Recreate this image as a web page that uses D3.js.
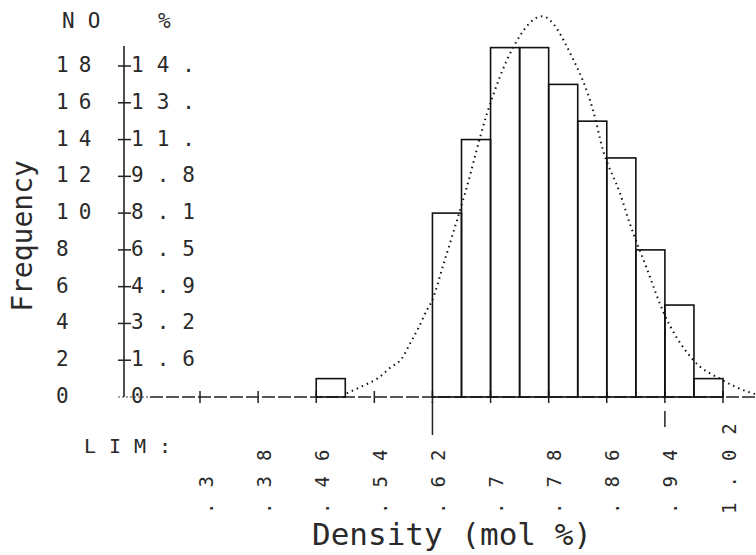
<!DOCTYPE html>
<html>
<head>
<meta charset="utf-8">
<script src="https://cdn.jsdelivr.net/npm/d3@7"></script>
<style>
  body { margin: 0; background: #fff; }
  svg { display: block; }
  .dm { font-family: "DejaVu Sans Mono", monospace; fill: #2a2a2a; }
</style>
</head>
<body>
<div id="chart"><svg></svg></div>
<script>
// histogram bins (left edge, density mol %) and counts
const binStart = [0.46, 0.62, 0.66, 0.70, 0.74, 0.78, 0.82, 0.86, 0.90, 0.94, 0.98]
const counts = [1, 10, 14, 19, 19, 17, 15, 13, 8, 5, 1]
const binWidth = 0.04

// dotted fitted curve
const curveDensity = [0.502, 0.524, 0.544, 0.562, 0.578, 0.589, 0.600, 0.612, 0.619, 0.635, 0.665, 0.695, 0.731, 0.771, 0.812, 0.841, 0.855, 0.878, 0.892, 0.915, 0.937, 0.977, 1.02, 1.053, 1.065]
const curveFreq = [0.2, 0.6, 1.0, 1.6, 2.1, 2.9, 3.7, 4.7, 5.2, 7.2, 11.1, 15.4, 19.0, 20.7, 18.5, 15.6, 13.4, 11.1, 9.4, 7.0, 4.7, 2.1, 0.9, 0.3, 0.15]

const countTicks = [0, 2, 4, 6, 8, 10, 12, 14, 16, 18]
const pctLabels = ["0", "1.6", "3.2", "4.9", "6.5", "8.1", "9.8", "11.", "13.", "14."]
const densityTicks = [0.3, 0.38, 0.46, 0.54, 0.62, 0.70, 0.78, 0.86, 0.94, 1.02]
const densityLabels = [".3", ".38", ".46", ".54", ".62", ".7", ".78", ".86", ".94", "1.02"]
const limits = [0.62, 0.94]

const width = 756
const height = 555

const svg = d3.select("#chart").select("svg")
svg.attr("width", width).attr("height", height)

const x = d3.scaleLinear().domain([0.3, 1.02]).range([200, 723])
const y = d3.scaleLinear().domain([0, 18]).range([397, 66])
const axisX = 124

// x axis line: dotted near the origin, dashed after
svg.append("line")
  .attr("x1", axisX - 6).attr("x2", 150)
  .attr("y1", y(0)).attr("y2", y(0))
  .attr("stroke", "#444").attr("stroke-width", 1.2)
  .attr("stroke-dasharray", "2 2")
svg.append("line")
  .attr("x1", 150).attr("x2", width)
  .attr("y1", y(0)).attr("y2", y(0))
  .attr("stroke", "#222").attr("stroke-width", 1.4)
  .attr("stroke-dasharray", "13 3")

// y axis line
svg.append("line")
  .attr("x1", axisX).attr("x2", axisX)
  .attr("y1", 46).attr("y2", y(0))
  .attr("stroke", "#222").attr("stroke-width", 1.6)

// y ticks (crosses)
svg.selectAll(".ytick")
  .data(countTicks.filter((d) => d > 0))
  .join("line")
  .attr("class", "ytick")
  .attr("x1", axisX - 6).attr("x2", axisX + 7)
  .attr("y1", (d) => y(d)).attr("y2", (d) => y(d))
  .attr("stroke", "#222").attr("stroke-width", 1.5)

// x ticks
svg.selectAll(".xtick")
  .data(densityTicks)
  .join("line")
  .attr("class", "xtick")
  .attr("x1", (d) => x(d)).attr("x2", (d) => x(d))
  .attr("y1", y(0) - 6).attr("y2", y(0) + 6)
  .attr("stroke", "#222").attr("stroke-width", 1.5)

// limit markers
svg.selectAll(".lim")
  .data(limits)
  .join("line")
  .attr("class", "lim")
  .attr("x1", (d) => x(d)).attr("x2", (d) => x(d))
  .attr("y1", (d, i) => y(0) + (i ? 14 : 4))
  .attr("y2", (d, i) => y(0) + (i ? 30 : 38))
  .attr("stroke", "#222").attr("stroke-width", 1.5)

// bars
svg.selectAll(".bar")
  .data(binStart)
  .join("rect")
  .attr("class", "bar")
  .attr("x", (d) => x(d))
  .attr("y", (d, i) => y(counts[i]))
  .attr("width", (d) => x(d + binWidth) - x(d))
  .attr("height", (d, i) => y(0) - y(counts[i]))
  .attr("fill", "none")
  .attr("stroke", "#111")
  .attr("stroke-width", 1.6)

// fitted curve
const line = d3.line()
  .x((d) => x(d[0]))
  .y((d) => y(d[1]))
  .curve(d3.curveMonotoneX)
svg.append("path")
  .datum(curveDensity.map((d, i) => [d, curveFreq[i]]))
  .attr("d", line)
  .attr("fill", "none")
  .attr("stroke", "#111")
  .attr("stroke-width", 2)
  .attr("stroke-dasharray", "1.5 4")

// count labels (left)
svg.selectAll(".nolab")
  .data(countTicks)
  .join("text")
  .attr("class", "dm nolab")
  .attr("x", 56)
  .attr("y", (d) => y(d))
  .attr("dominant-baseline", "middle")
  .attr("font-size", 21)
  .attr("letter-spacing", 10)
  .text((d) => d)

// percent labels (right of axis)
svg.selectAll(".pctlab")
  .data(countTicks)
  .join("text")
  .attr("class", "dm pctlab")
  .attr("x", axisX + 7)
  .attr("y", (d) => y(d))
  .attr("dominant-baseline", "middle")
  .attr("font-size", 21)
  .attr("letter-spacing", 13)
  .text((d, i) => pctLabels[i])

// headers
svg.append("text").attr("class", "dm")
  .attr("x", 62).attr("y", 22)
  .attr("dominant-baseline", "middle")
  .attr("font-size", 21).attr("letter-spacing", 13)
  .text("NO")
svg.append("text").attr("class", "dm")
  .attr("x", 158).attr("y", 22)
  .attr("dominant-baseline", "middle")
  .attr("font-size", 21)
  .text("%")

svg.append("text").attr("class", "dm")
  .attr("x", 84).attr("y", 447)
  .attr("dominant-baseline", "middle")
  .attr("font-size", 20).attr("letter-spacing", 13)
  .text("LIM:")

// density labels, printed vertically
svg.selectAll(".dlab")
  .data(densityTicks)
  .join("text")
  .attr("class", "dm dlab")
  .attr("transform", (d) => `translate(${x(d) + 7}, 514) rotate(-90)`)
  .attr("dominant-baseline", "middle")
  .attr("font-size", 19)
  .attr("letter-spacing", 15)
  .text((d, i) => densityLabels[i])

// axis titles
svg.append("text").attr("class", "dm")
  .attr("transform", "translate(24, 236) rotate(-90)")
  .attr("text-anchor", "middle")
  .attr("dominant-baseline", "middle")
  .attr("font-size", 28)
  .text("Frequency")

svg.append("text").attr("class", "dm")
  .attr("x", 452).attr("y", 536)
  .attr("text-anchor", "middle")
  .attr("dominant-baseline", "middle")
  .attr("font-size", 31)
  .text("Density (mol %)")
</script>
</body>
</html>
